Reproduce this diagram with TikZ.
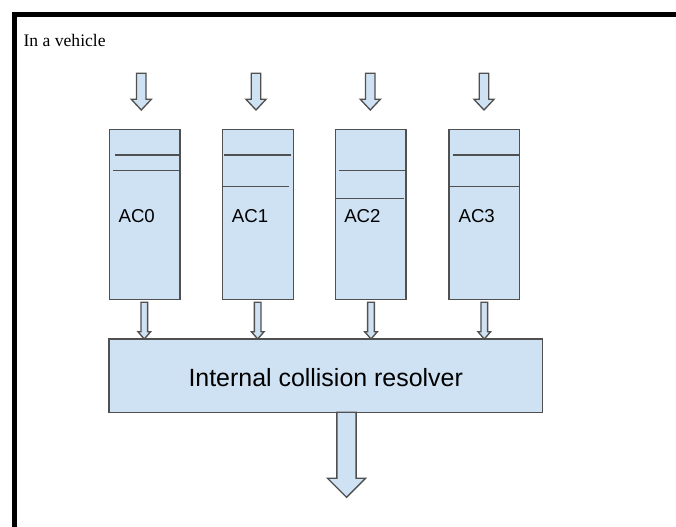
\documentclass[tikz,border=0pt]{standalone}
\usepackage{fontspec}
\setmainfont{Liberation Serif}
\newfontfamily\arialfont{Liberation Sans}
\newcommand\upx{0.75pt}
\definecolor{boxfill}{HTML}{CFE2F3}
\definecolor{boxline}{HTML}{505050}
\newcommand\blkarrow[7]{% name, cx, top, headstart, tip, shaftw, headw
  \coordinate (#1) at (#2,#3);
  \draw[arrowshape] ($(#1)+(-#6/2,0)$) -- ($(#1)+(#6/2,0)$) -- (#2+#6/2,#4) -- (#2+#7/2,#4) -- (#2,#5) -- (#2-#7/2,#4) -- (#2-#6/2,#4) -- cycle;}
\usetikzlibrary{calc}
\begin{document}
\begin{tikzpicture}[x=\upx,y=-\upx,
  qbox/.style={draw=boxline, fill=boxfill, line width=1.1pt, minimum width=70.5*\upx, minimum height=170*\upx, inner sep=0pt},
  rbox/.style={draw=boxline, fill=boxfill, line width=1.1pt, minimum width=433.3*\upx, minimum height=73.3*\upx, inner sep=0pt},
  divline/.style={draw=boxline, line width=1.1pt},
  arrowshape/.style={draw=boxline, fill=boxfill, line width=1pt, line join=miter},
  aclabel/.style={anchor=base west, inner sep=0pt, font=\arialfont\fontsize{14}{16}\selectfont},
  frameline/.style={line width=5*\upx, draw=black}
]
\useasboundingbox (0,0) rectangle (676,526);
\fill[white] (0,0) rectangle (676,526);
\draw[frameline] (14.5,530) -- (14.5,14.5) -- (680,14.5);
\node[anchor=base west, inner sep=0pt, font=\fontsize{13.2}{15}\selectfont] (title) at (23.3,46) {In a vehicle};

% input arrows
\blkarrow{in0}{141.3}{73.3}{99.3}{110}{9.5}{20}
\blkarrow{in1}{256}{73.3}{99.3}{110}{9.5}{20}
\blkarrow{in2}{370.3}{73.3}{99.3}{110}{9.5}{20}
\blkarrow{in3}{484}{73.3}{99.3}{110}{9.5}{20}

% queues
\node[qbox] (q0) at (144.7,214.3) {};
\node[qbox] (q1) at (258,214.3) {};
\node[qbox] (q2) at (370.9,214.3) {};
\node[qbox] (q3) at (484.3,214.3) {};

\draw[divline] (115,155) -- (181.3,155);
\draw[divline] (113,170.7) -- (180,170.7);
\draw[divline] (224.3,155) -- (291,155);
\draw[divline] (222.7,186.7) -- (289.3,186.7);
\draw[divline] (339.3,170.7) -- (406,170.7);
\draw[divline] (335.7,198.3) -- (404,198.3);
\draw[divline] (452.7,155) -- (519.3,155);
\draw[divline] (449.3,186.7) -- (519.3,186.7);

\node[aclabel] (l0) at (118.3,222.7) {AC0};
\node[aclabel] (l1) at (231.7,222.7) {AC1};
\node[aclabel] (l2) at (344,222.7) {AC2};
\node[aclabel] (l3) at (458.3,222.7) {AC3};

% resolver
\node[rbox] (res) at (325.7,375.7) {};
\node[anchor=base, inner sep=0pt, font=\arialfont\fontsize{18.7}{22}\selectfont] (reslabel) at (325.7,386) {Internal collision resolver};

% queue to resolver arrows
\blkarrow{o0}{144.3}{302.3}{331.7}{339}{6.7}{12.7}
\blkarrow{o1}{257.7}{302.3}{331.7}{339}{6.7}{12.7}
\blkarrow{o2}{371}{302.3}{331.7}{339}{6.7}{12.7}
\blkarrow{o3}{484.3}{302.3}{331.7}{339}{6.7}{12.7}

% output arrow
\blkarrow{out}{346.5}{412.3}{478.3}{497.3}{19.3}{38}
\end{tikzpicture}
\end{document}
